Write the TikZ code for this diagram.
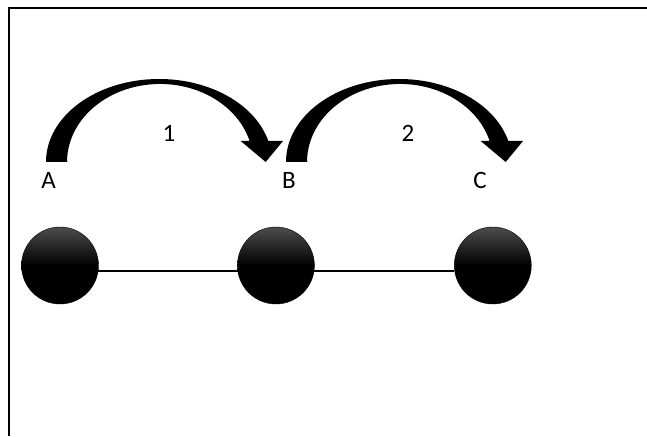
\documentclass[tikz,border=0pt]{standalone}
\usepackage{fontspec}
\setmainfont{Carlito}
\usetikzlibrary{positioning}
\tikzset{>=latex}

\begin{document}
\begin{tikzpicture}[x=1pt, y=1pt,
    site/.style={circle, minimum size=77pt, inner sep=0pt, draw=black, top color=black!70, bottom color=black, middle color=black},
    bond/.style={line width=1.6pt},
    jump/.style={fill=black},
    tag/.style={font=\fontsize{25}{30}\selectfont, inner sep=0pt}]
    \useasboundingbox (0,0) rectangle (647,436);
    \draw[line width=1.2pt] (647,428) -- (9,428) -- (9,0);

    \node[site] (s1) at (60,170.5) {};
    \node[site, right = 138.5pt of s1] (s2) {};
    \node[site, right = 139.5pt of s2] (s3) {};
    \draw[bond]
    (s1.-8) -- (s2.188)
    (s2.-8) -- (s3.188)
    ;

    \foreach \s in {0,240}
    \fill[jump, xshift=\s] (46,274) arc[start angle=180, end angle=14.66, x radius=113, y radius=83]
        -- (283,295) -- (265.7,274) -- (240.7,295) -- (249.6,295)
        arc[start angle=15.6, end angle=180, x radius=93, y radius=78] -- cycle;

    \node[tag] (la) at (48.7,256) {A};
    \node[tag] (lb) at (289,256) {B};
    \node[tag] (lc) at (480,256) {C};
    \node[tag] (n1) at (169,303) {1};
    \node[tag] (n2) at (408,303) {2};
\end{tikzpicture}
\end{document}
